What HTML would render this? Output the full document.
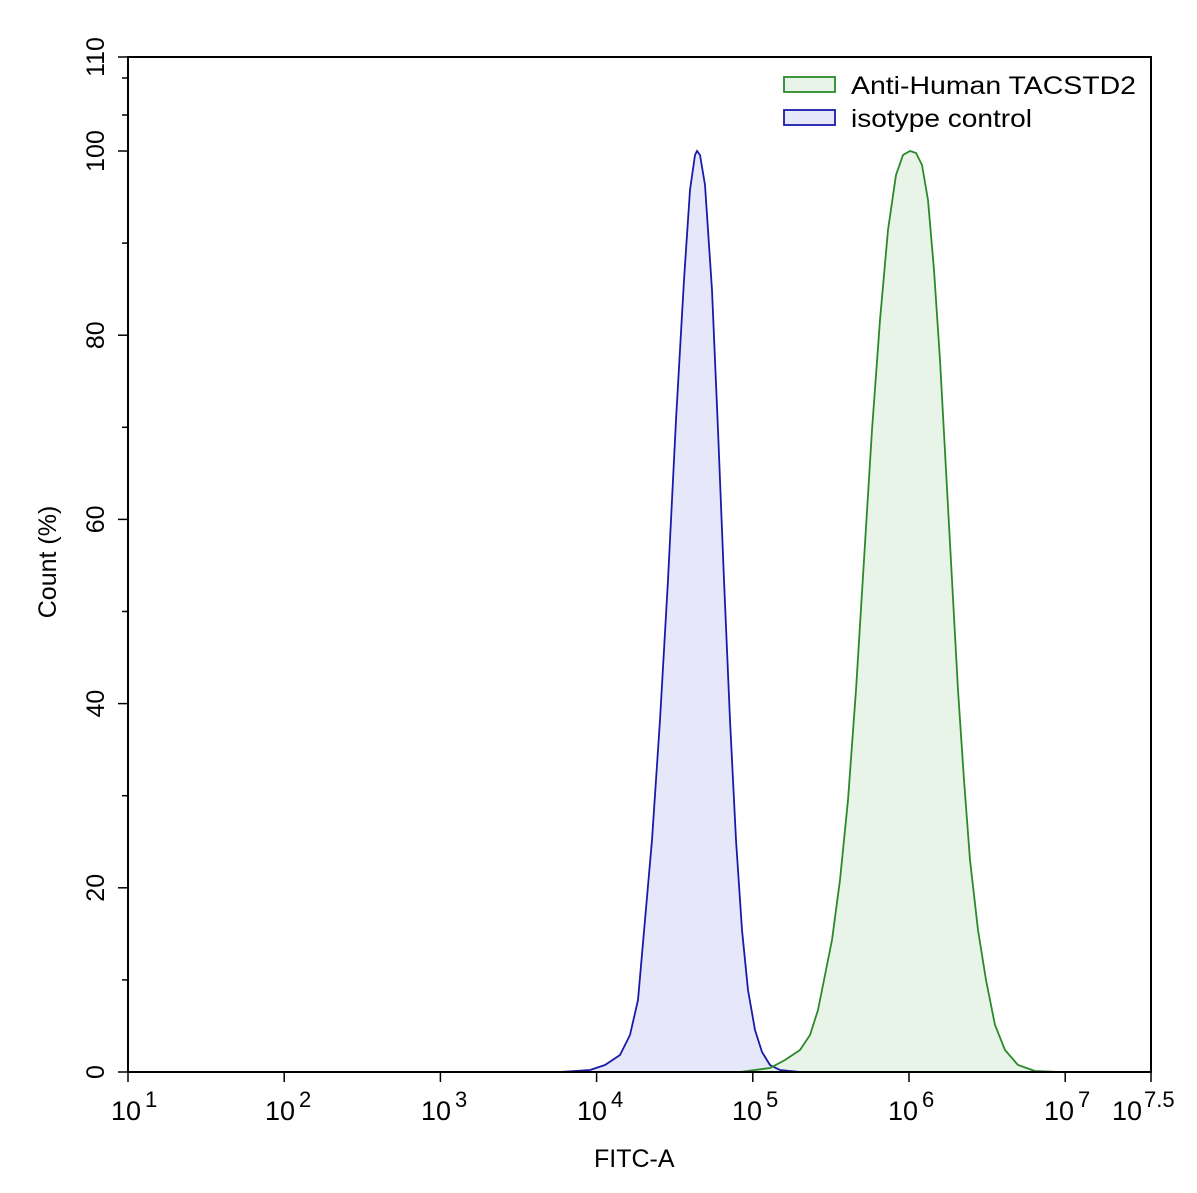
<!DOCTYPE html>
<html><head><meta charset="utf-8"><style>
html,body{margin:0;padding:0;background:#fff;}
svg{display:block;font-family:"Liberation Sans",sans-serif;}
</style></head><body>
<svg width="1197" height="1193" viewBox="0 0 1197 1193" xmlns="http://www.w3.org/2000/svg">
<rect width="1197" height="1193" fill="#fff"/>
<polygon fill="#e6e8fa" stroke="none" points="560,1072 590,1070 605,1065 620,1055 630,1035 638,1000 645,920 652,840 660,720 668,580 676,420 684,280 690,190 695,155 697,151 700,155 705,185 712,290 718,430 724,580 730,720 736,840 742,930 748,990 755,1030 762,1052 770,1065 780,1070 800,1072"/>
<polygon fill="#e8f4e8" stroke="none" points="740,1072 770,1068 785,1060 800,1050 810,1035 818,1010 825,975 832,940 840,880 848,800 856,690 864,560 872,430 880,320 888,230 896,175 903,155 910,151 916,153 922,165 928,200 934,270 940,360 946,470 952,580 958,690 964,780 970,860 978,930 986,980 995,1025 1005,1050 1018,1065 1035,1071 1060,1072"/>
<polyline fill="none" stroke="#1a1aaa" stroke-width="1.8" points="560,1072 590,1070 605,1065 620,1055 630,1035 638,1000 645,920 652,840 660,720 668,580 676,420 684,280 690,190 695,155 697,151 700,155 705,185 712,290 718,430 724,580 730,720 736,840 742,930 748,990 755,1030 762,1052 770,1065 780,1070 800,1072"/>
<polyline fill="none" stroke="#2a8a2a" stroke-width="1.8" points="740,1072 770,1068 785,1060 800,1050 810,1035 818,1010 825,975 832,940 840,880 848,800 856,690 864,560 872,430 880,320 888,230 896,175 903,155 910,151 916,153 922,165 928,200 934,270 940,360 946,470 952,580 958,690 964,780 970,860 978,930 986,980 995,1025 1005,1050 1018,1065 1035,1071 1060,1072"/>
<rect x="128" y="57" width="1023" height="1015" fill="none" stroke="#000" stroke-width="2"/>
<g stroke="#000" stroke-width="1.5">
<line x1="118" y1="1072" x2="128" y2="1072"/><line x1="118" y1="887.8" x2="128" y2="887.8"/>
<line x1="118" y1="703.6" x2="128" y2="703.6"/><line x1="118" y1="519.4" x2="128" y2="519.4"/>
<line x1="118" y1="335.2" x2="128" y2="335.2"/><line x1="118" y1="151" x2="128" y2="151"/>
<line x1="118" y1="57" x2="128" y2="57"/>
<line x1="122" y1="979.9" x2="128" y2="979.9"/><line x1="122" y1="795.7" x2="128" y2="795.7"/>
<line x1="122" y1="611.5" x2="128" y2="611.5"/><line x1="122" y1="427.3" x2="128" y2="427.3"/>
<line x1="122" y1="243.1" x2="128" y2="243.1"/><line x1="122" y1="115" x2="128" y2="115"/>
<line x1="122" y1="78" x2="128" y2="78"/>
<line x1="128" y1="1072" x2="128" y2="1082"/><line x1="284.2" y1="1072" x2="284.2" y2="1082"/>
<line x1="440.4" y1="1072" x2="440.4" y2="1082"/><line x1="596.6" y1="1072" x2="596.6" y2="1082"/>
<line x1="752.8" y1="1072" x2="752.8" y2="1082"/><line x1="909" y1="1072" x2="909" y2="1082"/>
<line x1="1065.2" y1="1072" x2="1065.2" y2="1082"/><line x1="1151" y1="1072" x2="1151" y2="1082"/>
</g>
<g stroke="#000" stroke-width="1.2" id="minor"></g>
<script>
var g=document.getElementById('minor'),s='';
for(var d=0;d<7;d++){for(var k=2;k<10;k++){var x=128+156.2*(d+Math.log10(k));if(x>1150)continue;s+='<line x1="'+x+'" y1="1072" x2="'+x+'" y2="1077"/>';}}
g.innerHTML=s;
</script>
<g font-size="25" fill="#000" text-anchor="middle">
<text transform="translate(104,1072) rotate(-90)">0</text>
<text transform="translate(104,887.8) rotate(-90)">20</text>
<text transform="translate(104,703.6) rotate(-90)">40</text>
<text transform="translate(104,519.4) rotate(-90)">60</text>
<text transform="translate(104,335.2) rotate(-90)">80</text>
<text transform="translate(104,151) rotate(-90)">100</text>
<text transform="translate(104,57) rotate(-90)">110</text>
<text transform="translate(56,562) rotate(-90)">Count  (%)</text>
</g>
<g font-size="27" fill="#000">
<text x="111" y="1120">10<tspan font-size="22" dy="-13" dx="4">1</tspan></text>
<text x="265" y="1120">10<tspan font-size="22" dy="-13" dx="4">2</tspan></text>
<text x="421" y="1120">10<tspan font-size="22" dy="-13" dx="4">3</tspan></text>
<text x="577" y="1120">10<tspan font-size="22" dy="-13" dx="4">4</tspan></text>
<text x="732" y="1120">10<tspan font-size="22" dy="-13" dx="4">5</tspan></text>
<text x="888" y="1120">10<tspan font-size="22" dy="-13" dx="4">6</tspan></text>
<text x="1044" y="1120">10<tspan font-size="22" dy="-13" dx="4">7</tspan></text>
<text x="1112" y="1120">10<tspan font-size="22" dy="-13" dx="2">7.5</tspan></text>
<text x="594" y="1167" font-size="25">FITC-A</text>
</g>
<rect x="784" y="77" width="51" height="15" fill="#e8f4e8" stroke="#2a8a2a" stroke-width="1.8"/>
<rect x="784" y="110" width="51" height="15" fill="#e6e8fa" stroke="#1a1aaa" stroke-width="1.8"/>
<text x="851" y="94" font-size="25" fill="#000" textLength="285" lengthAdjust="spacingAndGlyphs">Anti-Human TACSTD2</text>
<text x="851" y="127" font-size="25" fill="#000" textLength="181" lengthAdjust="spacingAndGlyphs">isotype control</text>
</svg>
</body></html>
